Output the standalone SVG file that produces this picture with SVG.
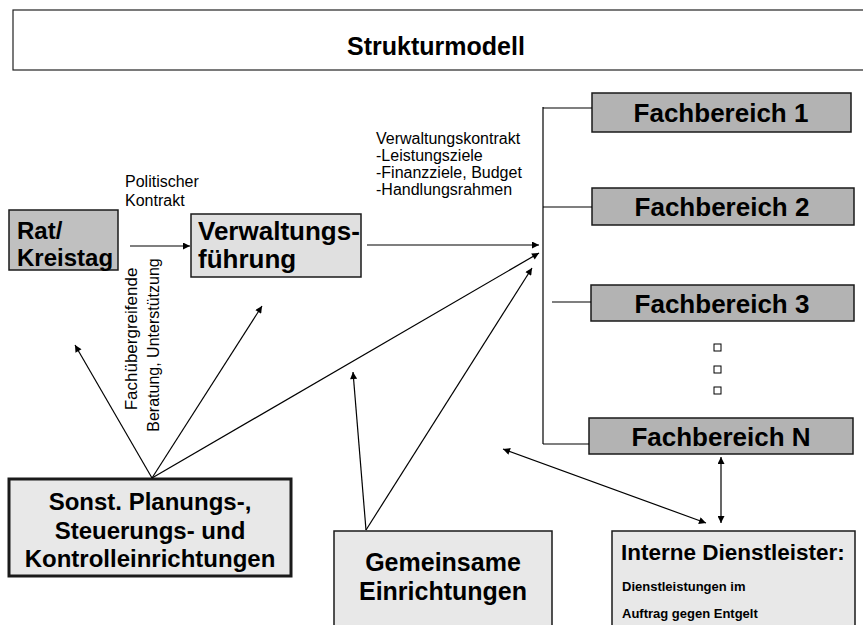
<svg xmlns="http://www.w3.org/2000/svg" width="863" height="625" viewBox="0 0 863 625">
<defs>
<marker id="ah" viewBox="0 0 10 10" refX="10" refY="5" markerWidth="9" markerHeight="7" markerUnits="userSpaceOnUse" orient="auto-start-reverse">
<path d="M0,0 L10,5 L0,10 z" fill="#000"/>
</marker>
<style>
.box{stroke:#1a1a1a;stroke-width:1.5}
.lbl{font-family:"Liberation Sans",Arial,sans-serif;font-weight:bold;font-size:24px;fill:#000}
.big{font-size:26px}
.sm{font-family:"Liberation Sans",Arial,sans-serif;font-size:16px;fill:#000}
.tiny{font-size:13px}
.ln{stroke:#000;stroke-width:1.2;fill:none}
.arr{stroke:#000;stroke-width:1.2;fill:none;marker-end:url(#ah)}
.darr{stroke:#000;stroke-width:1.2;fill:none;marker-end:url(#ah);marker-start:url(#ah)}
</style>
</defs>
<rect width="863" height="625" fill="#fff"/>
<g id="title">
<rect x="13" y="10" width="860" height="60" fill="#fff" stroke="#222" stroke-width="1.2"/>
<text x="436" y="55" text-anchor="middle" class="lbl" style="font-size:25px">Strukturmodell</text>
</g>
<g id="rat">
<rect x="9" y="210" width="109" height="60" fill="#c0c0c0" class="box"/>
<text x="17" y="239" class="lbl">Rat/</text>
<text x="17" y="266" class="lbl">Kreistag</text>
</g>
<g id="verwaltungsfuehrung">
<rect x="191" y="214" width="170" height="63" fill="#e0e0e0" class="box"/>
<text x="198" y="240" class="lbl big">Verwaltungs-</text>
<text x="198" y="268" class="lbl big">führung</text>
</g>
<g id="fb1">
<rect x="592" y="93" width="259" height="39" fill="#b3b3b3" class="box"/>
<text x="721" y="122" text-anchor="middle" class="lbl big">Fachbereich 1</text>
</g>
<g id="fb2">
<rect x="592" y="188" width="262" height="37" fill="#b3b3b3" class="box"/>
<text x="722" y="216" text-anchor="middle" class="lbl big">Fachbereich 2</text>
</g>
<g id="fb3">
<rect x="591" y="285" width="263" height="36" fill="#b3b3b3" class="box"/>
<text x="722" y="313" text-anchor="middle" class="lbl big">Fachbereich 3</text>
</g>
<g id="fbn">
<rect x="589" y="418" width="264" height="36" fill="#b3b3b3" class="box"/>
<text x="721" y="446" text-anchor="middle" class="lbl big">Fachbereich N</text>
</g>
<g id="dots" fill="none" stroke="#000" stroke-width="1">
<rect x="714" y="344" width="7" height="7"/>
<rect x="714" y="366" width="7" height="7"/>
<rect x="714" y="387" width="7" height="7"/>
</g>
<g id="sonst">
<rect x="9" y="479" width="282" height="97" fill="#e8e8e8" stroke="#1a1a1a" stroke-width="3"/>
<text x="150" y="510" text-anchor="middle" class="lbl">Sonst. Planungs-,</text>
<text x="150" y="539" text-anchor="middle" class="lbl">Steuerungs- und</text>
<text x="150" y="567" text-anchor="middle" class="lbl">Kontrolleinrichtungen</text>
</g>
<g id="gemeinsam">
<rect x="334" y="531" width="218" height="100" fill="#e8e8e8" class="box"/>
<text x="443" y="571" text-anchor="middle" class="lbl" style="font-size:25px">Gemeinsame</text>
<text x="443" y="600" text-anchor="middle" class="lbl" style="font-size:25px">Einrichtungen</text>
</g>
<g id="intern">
<rect x="612" y="531" width="243" height="100" fill="#e8e8e8" class="box"/>
<text x="621" y="560" class="lbl" style="font-size:22.5px">Interne Dienstleister:</text>
<text x="622" y="591" class="lbl tiny">Dienstleistungen im</text>
<text x="622" y="618" class="lbl tiny">Auftrag gegen Entgelt</text>
</g>
<g id="labels">
<text class="sm" x="125" y="187">Politischer</text>
<text class="sm" x="125" y="206">Kontrakt</text>
<text class="sm" x="376" y="144">Verwaltungskontrakt</text>
<text class="sm" x="376" y="161">-Leistungsziele</text>
<text class="sm" x="376" y="178">-Finanzziele, Budget</text>
<text class="sm" x="376" y="195">-Handlungsrahmen</text>
<text class="sm" transform="translate(137,339) rotate(-90)" text-anchor="middle" style="font-size:17px">Fachübergreifende</text>
<text class="sm" transform="translate(159,345) rotate(-90)" text-anchor="middle">Beratung, Unterstützung</text>
</g>
<g id="connectors">
<line class="arr" x1="130" y1="246" x2="190" y2="246"/>
<line class="arr" x1="367" y1="245" x2="539" y2="245"/>
<line class="ln" x1="543" y1="107" x2="543" y2="444"/>
<line class="ln" x1="543" y1="108" x2="592" y2="108"/>
<line class="ln" x1="543" y1="207" x2="592" y2="207"/>
<line class="ln" x1="552" y1="302" x2="591" y2="302"/>
<line class="ln" x1="543" y1="444" x2="589" y2="444"/>
<line class="arr" x1="152" y1="478" x2="75" y2="345"/>
<line class="arr" x1="152" y1="478" x2="262" y2="306"/>
<line class="arr" x1="152" y1="478" x2="539" y2="253"/>
<line class="arr" x1="366" y1="530" x2="353" y2="372"/>
<line class="arr" x1="366" y1="530" x2="532" y2="268"/>
<line class="darr" x1="503" y1="449" x2="706" y2="523"/>
<line class="darr" x1="721" y1="457" x2="721" y2="523"/>
</g>
</svg>
